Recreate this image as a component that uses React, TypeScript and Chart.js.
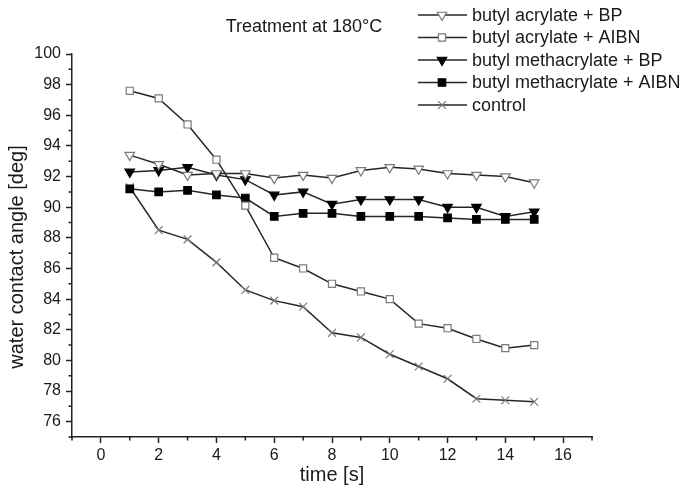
import React, { useEffect, useRef } from 'react';
import { Chart, registerables } from 'chart.js';

Chart.register(...registerables);

const FONT = "'Liberation Sans', Arial, Helvetica, sans-serif";

const timeValues = [1, 2, 3, 4, 5, 6, 7, 8, 9, 10, 11, 12, 13, 14, 15];
const seriesLabels = [
  'butyl acrylate + BP',
  'butyl acrylate + AIBN',
  'butyl methacrylate + BP',
  'butyl methacrylate + AIBN',
  'control',
];
const butylAcrylateBP = [93.4, 92.8, 92.1, 92.2, 92.2, 91.9, 92.1, 91.9, 92.4, 92.6, 92.5, 92.2, 92.1, 92.0, 91.6];
const butylAcrylateAIBN = [97.6, 97.1, 95.4, 93.1, 90.1, 86.7, 86.0, 85.0, 84.5, 84.0, 82.4, 82.1, 81.4, 80.8, 81.0];
const butylMethacrylateBP = [92.3, 92.4, 92.6, 92.1, 91.8, 90.8, 91.0, 90.2, 90.5, 90.5, 90.5, 90.0, 90.0, 89.4, 89.7];
const butylMethacrylateAIBN = [91.2, 91.0, 91.1, 90.8, 90.6, 89.4, 89.6, 89.6, 89.4, 89.4, 89.4, 89.3, 89.2, 89.2, 89.2];
const control = [91.3, 88.5, 87.9, 86.4, 84.6, 83.9, 83.5, 81.8, 81.5, 80.4, 79.6, 78.8, 77.5, 77.4, 77.3];

const titleText = 'Treatment at 180°C';
const xAxisTitle = 'time [s]';
const yAxisTitle = 'water contact angle [deg]';

type MarkerKind = 'triOpen' | 'sqOpen' | 'triFill' | 'sqFill' | 'cross';
const markerKinds: MarkerKind[] = ['triOpen', 'sqOpen', 'triFill', 'sqFill', 'cross'];
const seriesValues = [butylAcrylateBP, butylAcrylateAIBN, butylMethacrylateBP, butylMethacrylateAIBN, control];

const LINE_COLOR = '#262626';
const OPEN_COLOR = '#7a7a7a';

function styleFor(kind: MarkerKind) {
  switch (kind) {
    case 'triOpen':
      return { pointStyle: 'triangle', rotation: 180, pointRadius: 5.5, bg: '#ffffff', bc: OPEN_COLOR };
    case 'sqOpen':
      return { pointStyle: 'rect', rotation: 0, pointRadius: 5, bg: '#ffffff', bc: OPEN_COLOR };
    case 'triFill':
      return { pointStyle: 'triangle', rotation: 180, pointRadius: 5.5, bg: '#000000', bc: '#000000' };
    case 'sqFill':
      return { pointStyle: 'rect', rotation: 0, pointRadius: 5.3, bg: '#000000', bc: '#000000' };
    default:
      return { pointStyle: 'crossRot', rotation: 0, pointRadius: 5.5, bg: OPEN_COLOR, bc: OPEN_COLOR };
  }
}

function drawMarker(ctx: CanvasRenderingContext2D, kind: MarkerKind, x: number, y: number) {
  const s = styleFor(kind);
  const r = s.pointRadius;
  ctx.save();
  ctx.lineWidth = 1.2;
  ctx.strokeStyle = s.bc;
  ctx.fillStyle = s.bg;
  ctx.beginPath();
  if (kind === 'triOpen' || kind === 'triFill') {
    for (let i = 0; i < 3; i++) {
      const a = Math.PI + (i * 2 * Math.PI) / 3;
      const px = x + Math.sin(a) * r;
      const py = y - Math.cos(a) * r;
      if (i === 0) ctx.moveTo(px, py);
      else ctx.lineTo(px, py);
    }
    ctx.closePath();
    ctx.fill();
    ctx.stroke();
  } else if (kind === 'sqOpen' || kind === 'sqFill') {
    const h = r * Math.SQRT1_2;
    ctx.rect(x - h, y - h, 2 * h, 2 * h);
    ctx.fill();
    ctx.stroke();
  } else {
    const h = r * Math.SQRT1_2;
    ctx.moveTo(x - h, y - h);
    ctx.lineTo(x + h, y + h);
    ctx.moveTo(x + h, y - h);
    ctx.lineTo(x - h, y + h);
    ctx.stroke();
  }
  ctx.restore();
}

const overlayPlugin = {
  id: 'overlay',
  afterDraw(chart: any) {
    const ctx: CanvasRenderingContext2D = chart.ctx;
    const xs = chart.scales.x;
    const ys = chart.scales.y;
    const area = chart.chartArea;
    ctx.save();
    // minor ticks
    ctx.strokeStyle = '#222';
    ctx.lineWidth = 1.5;
    ctx.beginPath();
    for (let v = -1; v <= 17; v += 2) {
      const px = xs.getPixelForValue(v);
      ctx.moveTo(px, area.bottom);
      ctx.lineTo(px, area.bottom + 3.5);
    }
    for (let v = 75; v <= 99; v += 2) {
      const py = ys.getPixelForValue(v);
      ctx.moveTo(area.left, py);
      ctx.lineTo(area.left - 3.5, py);
    }
    ctx.stroke();

    ctx.fillStyle = '#1a1a1a';
    // x axis title
    ctx.font = `20px ${FONT}`;
    ctx.textAlign = 'center';
    ctx.textBaseline = 'middle';
    ctx.fillText(xAxisTitle, (area.left + area.right) / 2, 475);
    // y axis title
    ctx.save();
    ctx.translate(17, 257);
    ctx.rotate(-Math.PI / 2);
    ctx.fillText(yAxisTitle, 0, 0);
    ctx.restore();

    // title
    ctx.font = `18px ${FONT}`;
    ctx.fillText(titleText, 304, 27);

    // legend
    const rowY0 = 15;
    const rowGap = 22.5;
    chart.data.datasets.forEach((ds: any, i: number) => {
      const y = rowY0 + i * rowGap;
      ctx.strokeStyle = LINE_COLOR;
      ctx.lineWidth = 1.5;
      ctx.beginPath();
      ctx.moveTo(418, y);
      ctx.lineTo(467, y);
      ctx.stroke();
      drawMarker(ctx, markerKinds[i], 442, y);
      ctx.fillStyle = '#1a1a1a';
      ctx.font = `18px ${FONT}`;
      ctx.textAlign = 'left';
      ctx.textBaseline = 'middle';
      ctx.fillText(ds.label, 472, y + 1);
    });
    ctx.restore();
  },
};

export default function App() {
  const canvasRef = useRef<HTMLCanvasElement | null>(null);

  useEffect(() => {
    if (!canvasRef.current) return;
    const datasets = seriesValues.map((vals, i) => {
      const s = styleFor(markerKinds[i]);
      return {
        label: seriesLabels[i],
        data: timeValues.map((t, j) => ({ x: t, y: vals[j] })),
        borderColor: LINE_COLOR,
        borderWidth: 1.5,
        pointStyle: s.pointStyle,
        rotation: s.rotation,
        pointRadius: s.pointRadius,
        pointBackgroundColor: s.bg,
        pointBorderColor: s.bc,
        pointBorderWidth: 1.2,
        tension: 0,
        fill: false,
      };
    });

    const chart = new Chart(canvasRef.current, {
      type: 'line',
      data: { datasets } as any,
      options: {
        responsive: false,
        animation: false,
        layout: { padding: { left: 0, right: 94, top: 54, bottom: 0 } },
        plugins: {
          legend: { display: false },
          title: { display: false },
          tooltip: { enabled: false },
        },
        scales: {
          x: {
            type: 'linear',
            min: -1,
            max: 17,
            afterFit: (s: any) => {
              s.height = 53;
            },
            ticks: {
              stepSize: 1,
              autoSkip: false,
              maxRotation: 0,
              padding: 3,
              color: '#1a1a1a',
              font: { size: 16, family: FONT },
              callback: (v: any) => (Number(v) % 2 === 0 ? String(v) : ''),
            },
            grid: {
              drawOnChartArea: false,
              drawTicks: true,
              tickLength: 6,
              tickWidth: 1.5,
              tickColor: (c: any) => (c.tick && Number(c.tick.value) % 2 === 0 ? '#222' : 'rgba(0,0,0,0)'),
            },
            border: { color: '#222', width: 1.5 },
          },
          y: {
            type: 'linear',
            min: 75,
            max: 100,
            afterFit: (s: any) => {
              s.width = 72;
            },
            ticks: {
              stepSize: 1,
              autoSkip: false,
              padding: 5,
              color: '#1a1a1a',
              font: { size: 16, family: FONT },
              callback: (v: any) => (Number(v) % 2 === 0 ? String(v) : ''),
            },
            grid: {
              drawOnChartArea: false,
              drawTicks: true,
              tickLength: 6,
              tickWidth: 1.5,
              tickColor: (c: any) => (c.tick && Number(c.tick.value) % 2 === 0 ? '#222' : 'rgba(0,0,0,0)'),
            },
            border: { color: '#222', width: 1.5 },
          },
        },
      } as any,
      plugins: [overlayPlugin],
    });
    return () => chart.destroy();
  }, []);

  return (
    <div style={{ position: 'absolute', left: 0, top: 0, width: 686, height: 490, background: '#fff' }}>
      <canvas ref={canvasRef} width={686} height={490} />
    </div>
  );
}
